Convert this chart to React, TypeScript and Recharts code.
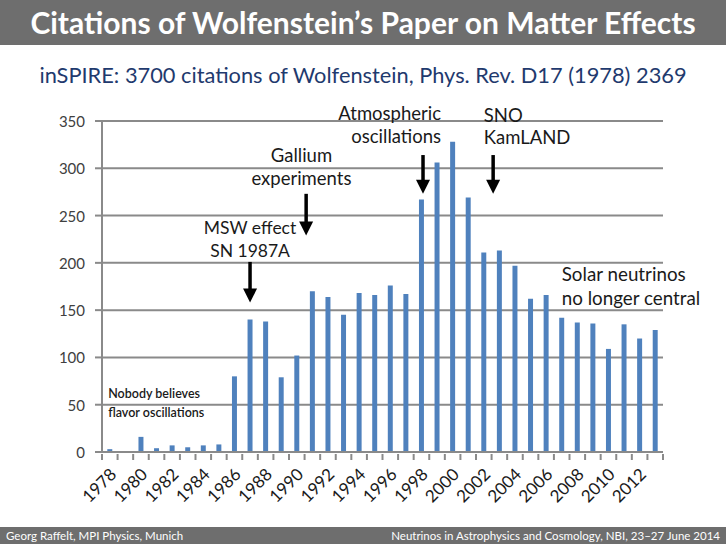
import React from 'react';
import { BarChart, Bar, XAxis, YAxis, CartesianGrid, ReferenceDot } from 'recharts';

const years = [1978,1979,1980,1981,1982,1983,1984,1985,1986,1987,1988,1989,1990,1991,1992,1993,1994,1995,1996,1997,1998,1999,2000,2001,2002,2003,2004,2005,2006,2007,2008,2009,2010,2011,2012,2013];
const citations = [3,0,16,4,7,5,7,8,80,140,138,79,102,170,164,145,168,166,176,167,267,306,328,269,211,213,197,162,166,142,137,136,109,135,120,129];
const yTicks = [0,50,100,150,200,250,300,350];

const W = 726, H = 544;
const M = { top: 121, right: 63, left: 0, bottom: 32 };
const Y_W = 102;
const PLOT_W = W - M.left - M.right - Y_W;
const N = years.length;
const STEP = PLOT_W / N;

const data = years.map((y, i) => ({ year: String(y), citations: citations[i] }));

const GRID = '#8a8a8a';
const FONT = 'Lato, "Open Sans", sans-serif';

const XTick = (props: any) => {
  const { x, y, payload, index } = props;
  const show = Number(payload.value) % 2 === 0;
  return (
    <g>
      <line x1={x - STEP / 2} x2={x - STEP / 2} y1={y} y2={y + 6} stroke={GRID} strokeWidth={2} />
      {index === N - 1 && <line x1={x + STEP / 2} x2={x + STEP / 2} y1={y} y2={y + 6} stroke={GRID} strokeWidth={2} />}
      {show && (
        <text x={x + 3} y={y + 17} transform={`rotate(-45, ${x + 3}, ${y + 17})`} textAnchor="end" dominantBaseline="central" fontSize={17} fill="#1a1a1a" fontFamily={FONT}>
          {payload.value}
        </text>
      )}
    </g>
  );
};

const YTick = (props: any) => {
  const { x, y, payload } = props;
  return (
    <text x={x} y={y} textAnchor="end" dominantBaseline="central" fontSize={15} fill="#404040" fontFamily={FONT}>
      {payload.value}
    </text>
  );
};

// text block annotation; dxSteps shifts by a fraction of a category width
const label = (lines: string[], anchor: 'start' | 'middle' | 'end', dxSteps = 0, size = 18.5, gap = 23, weight = 400) => (p: any) => {
  const x = p.cx + dxSteps * STEP;
  return (
    <text x={x} y={p.cy} textAnchor={anchor} fontSize={size} fill="#1a1a1a" fontFamily={FONT} fontWeight={weight}>
      {lines.map((l, i) => (
        <tspan key={i} x={x} dy={i === 0 ? '0.35em' : gap}>{l}</tspan>
      ))}
    </text>
  );
};

// arrow pointing down: cy = tail; length given in value units
const PLOT_H = H - M.top - M.bottom - 60;
const PX_PER_UNIT = PLOT_H / 350;
const arrow = (dxSteps: number, len: number) => (p: any) => {
  const x = p.cx + dxSteps * STEP;
  const tail = p.cy;
  const tip = p.cy + len * PX_PER_UNIT;
  return (
    <g>
      <line x1={x} x2={x} y1={tail} y2={tip - 10} stroke="#000" strokeWidth={3.5} />
      <polygon points={`${x - 7},${tip - 14} ${x + 7},${tip - 14} ${x},${tip}`} fill="#000" />
    </g>
  );
};

export default function App() {
  return (
    <div style={{ position: 'absolute', left: 0, top: 0, width: W, height: H, background: '#fff', overflow: 'hidden' }}>
      <div style={{ position: 'absolute', left: 0, top: 0, width: W, height: 45, background: '#6e6e6e', color: '#fff', fontFamily: FONT, fontWeight: 700, fontSize: 30, textAlign: 'center', lineHeight: '45px' }}>
        Citations of Wolfenstein’s Paper on Matter Effects
      </div>
      <div style={{ position: 'absolute', left: 0, top: 60, width: W, textAlign: 'center', color: '#1f3a6e', fontFamily: FONT, fontSize: 21.8, lineHeight: '30px' }}>
        inSPIRE: 3700 citations of Wolfenstein, Phys. Rev. D17 (1978) 2369
      </div>
      <div style={{ position: 'absolute', left: 0, top: 0 }}>
        <BarChart width={W} height={H} data={data} margin={M} barCategoryGap="66%">
          <CartesianGrid vertical={false} stroke={GRID} strokeWidth={2} />
          <XAxis dataKey="year" interval={0} tickSize={0} tickLine={false} axisLine={{ stroke: GRID, strokeWidth: 2 }} tick={<XTick />} height={60} />
          <YAxis domain={[0, 350]} ticks={yTicks} width={Y_W} interval={0} tickSize={7} tickMargin={10} tickLine={{ stroke: GRID, strokeWidth: 2 }} axisLine={{ stroke: GRID, strokeWidth: 2 }} tick={<YTick />} />
          <Bar dataKey="citations" fill="#4f81bd" isAnimationActive={false} />
          <ReferenceDot x="1987" y={201} r={0} ifOverflow="visible" shape={arrow(0, 43)} />
          <ReferenceDot x="1990" y={273} r={0} ifOverflow="visible" shape={arrow(0.6, 44)} />
          <ReferenceDot x="1998" y={314} r={0} ifOverflow="visible" shape={arrow(0.1, 41)} />
          <ReferenceDot x="2002" y={314} r={0} ifOverflow="visible" shape={arrow(0.6, 41)} />
          <ReferenceDot x="1987" y={237} r={0} ifOverflow="visible" shape={label(['MSW effect', 'SN 1987A'], 'middle', 0, 17.5)} />
          <ReferenceDot x="1990" y={314} r={0} ifOverflow="visible" shape={label(['Gallium', 'experiments'], 'middle', 0.3)} />
          <ReferenceDot x="1999" y={358} r={0} ifOverflow="visible" shape={label(['Atmospheric', 'oscillations'], 'end', 0.26)} />
          <ReferenceDot x="2002" y={356} r={0} ifOverflow="visible" shape={label(['SNO', 'KamLAND'], 'start', 0, 18.5, 22)} />
          <ReferenceDot x="2007" y={188} r={0} ifOverflow="visible" shape={label(['Solar neutrinos', 'no longer central'], 'start', 0, 18.8, 24)} />
          <ReferenceDot x="1978" y={62} r={0} ifOverflow="visible" shape={label(['Nobody believes', 'flavor oscillations'], 'start', -0.1, 12.5, 19, 600)} />
        </BarChart>
      </div>
      <div style={{ position: 'absolute', left: 0, top: 527, width: W, height: 17, background: '#6e6e6e', color: '#fff', fontFamily: FONT, fontSize: 11.5, lineHeight: '17px' }}>
        <span style={{ position: 'absolute', left: 6 }}>Georg Raffelt, MPI Physics, Munich</span>
        <span style={{ position: 'absolute', right: 6 }}>Neutrinos in Astrophysics and Cosmology, NBI, 23–27 June 2014</span>
      </div>
    </div>
  );
}
